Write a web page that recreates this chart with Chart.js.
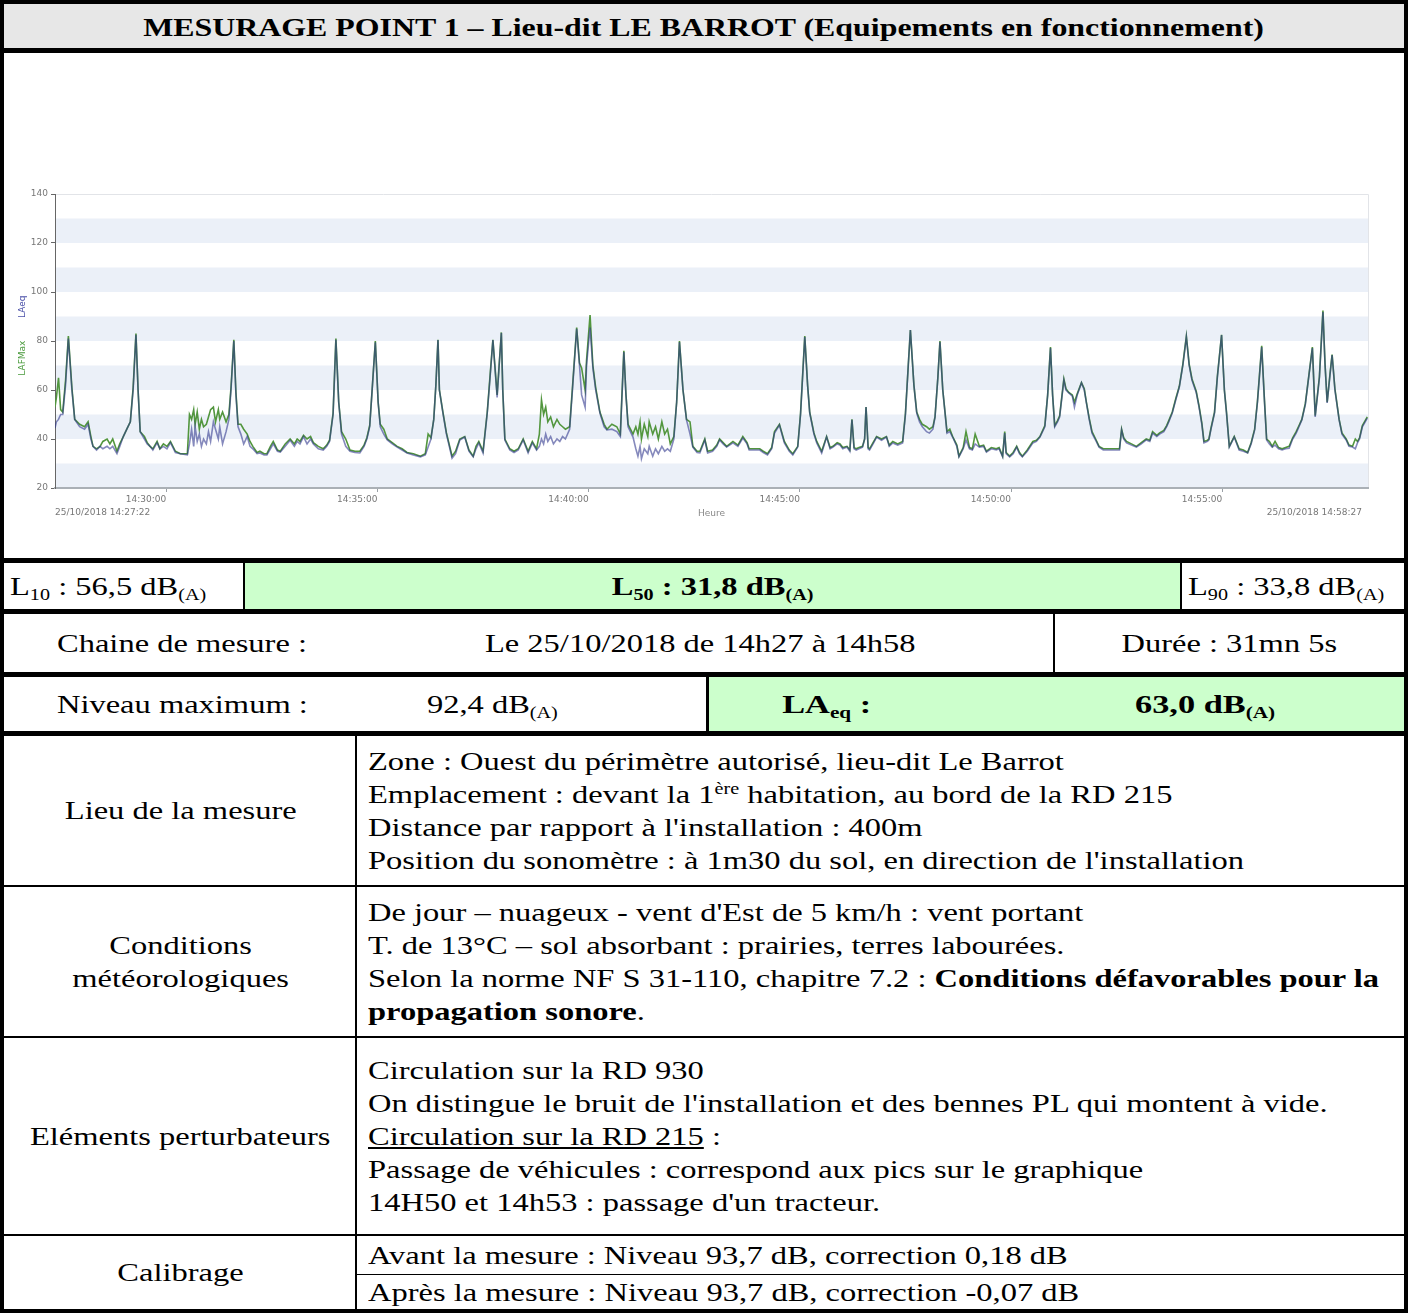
<!DOCTYPE html>
<html lang="fr">
<head>
<meta charset="utf-8">
<title>Mesurage point 1 - Le Barrot</title>
<script src="https://cdn.jsdelivr.net/npm/chart.js@4.4.1/dist/chart.umd.min.js"></script>
<style>
  body { margin: 0; background: #fff; }
  .sheet { position: relative; width: 1408px; height: 1313px; overflow: hidden;
           font-family: "Liberation Serif", "Times New Roman", serif; color: #000; }
  .hl { position: absolute; left: 0; width: 1408px; background: #000; }
  .vl { position: absolute; width: 2px; background: #000; }
  .cell { position: absolute; display: flex; align-items: center; justify-content: center;
          font-size: 26px; line-height: 33px; white-space: nowrap; }
  .cell.left { justify-content: flex-start; }
  .t { display: inline-block; transform: scaleX(1.25); transform-origin: center; text-align: center; }
  .left .t { transform-origin: left center; text-align: left; }
  .green { background: #ccffcc; }
  sub { font-size: 62%; vertical-align: -0.28em; line-height: 0; }
  sup { font-size: 62%; vertical-align: 0.55em; line-height: 0; }
  #chartBox { position: absolute; left: 8px; top: 180px; width: 1390px; height: 345px; }
</style>
</head>
<body>
<div class="sheet">
  <!-- titre -->
  <div class="cell" style="left:4px;top:4px;width:1400px;height:46px;background:#e7e7e7;font-size:25px;font-weight:bold;">
    <span class="t" style="transform:scaleX(1.275);">MESURAGE POINT 1 – Lieu-dit LE BARROT (Equipements en fonctionnement)</span>
  </div>

  <!-- graphique -->
  <div id="chartBox"><canvas id="chart" width="1390" height="345"></canvas></div>

  <!-- L10 / L50 / L90 -->
  <div class="cell left" style="left:4px;top:563px;width:239px;height:46px;padding-left:6px;box-sizing:border-box;">
    <span class="t">L<sub>10</sub> : 56,5 dB<sub>(A)</sub></span>
  </div>
  <div class="cell green" style="left:245px;top:563px;width:935px;height:46px;font-weight:bold;">
    <span class="t">L<sub>50</sub> : 31,8 dB<sub>(A)</sub></span>
  </div>
  <div class="cell left" style="left:1182px;top:563px;width:222px;height:46px;padding-left:6px;box-sizing:border-box;">
    <span class="t">L<sub>90</sub> : 33,8 dB<sub>(A)</sub></span>
  </div>

  <!-- chaine de mesure -->
  <div class="cell" style="left:4px;top:614px;width:356px;height:58px;"><span class="t">Chaine de mesure :</span></div>
  <div class="cell" style="left:354px;top:614px;width:693px;height:58px;"><span class="t">Le 25/10/2018 de 14h27 à 14h58</span></div>
  <div class="cell" style="left:1055px;top:614px;width:349px;height:58px;"><span class="t">Durée : 31mn 5s</span></div>

  <!-- niveau max / LAeq -->
  <div class="cell" style="left:4px;top:677px;width:356px;height:54px;"><span class="t">Niveau maximum :</span></div>
  <div class="cell" style="left:300px;top:677px;width:385px;height:54px;"><span class="t">92,4 dB<sub>(A)</sub></span></div>
  <div class="cell green" style="left:709px;top:677px;width:695px;height:54px;"></div>
  <div class="cell" style="left:709px;top:677px;width:236px;height:54px;font-weight:bold;"><span class="t" style="transform:scaleX(1.32);">LA<sub>eq</sub> :</span></div>
  <div class="cell" style="left:1000px;top:677px;width:410px;height:54px;font-weight:bold;"><span class="t" style="transform:scaleX(1.32);">63,0 dB<sub>(A)</sub></span></div>

  <!-- lieu -->
  <div class="cell" style="left:4px;top:736px;width:353px;height:149px;"><span class="t">Lieu de la mesure</span></div>
  <div class="cell left" style="left:368px;top:736px;width:1030px;height:149px;">
    <span class="t">Zone : Ouest du périmètre autorisé, lieu-dit Le Barrot<br>Emplacement : devant la 1<sup>ère</sup> habitation, au bord de la RD 215<br>Distance par rapport à l'installation : 400m<br>Position du sonomètre : à 1m30 du sol, en direction de l'installation</span>
  </div>

  <!-- conditions -->
  <div class="cell" style="left:4px;top:887px;width:353px;height:149px;"><span class="t">Conditions<br>météorologiques</span></div>
  <div class="cell left" style="left:368px;top:887px;width:1030px;height:149px;">
    <span class="t">De jour – nuageux - vent d'Est de 5 km/h : vent portant<br>T. de 13°C – sol absorbant : prairies, terres labourées.<br>Selon la norme NF S 31-110, chapitre 7.2 : <b>Conditions défavorables pour la<br>propagation sonore</b>.</span>
  </div>

  <!-- elements perturbateurs -->
  <div class="cell" style="left:4px;top:1038px;width:353px;height:196px;"><span class="t">Eléments perturbateurs</span></div>
  <div class="cell left" style="left:368px;top:1038px;width:1030px;height:196px;">
    <span class="t">Circulation sur la RD 930<br>On distingue le bruit de l'installation et des bennes PL qui montent à vide.<br><u>Circulation sur la RD 215</u> :<br>Passage de véhicules : correspond aux pics sur le graphique<br>14H50 et 14h53 : passage d'un tracteur.</span>
  </div>

  <!-- calibrage -->
  <div class="cell" style="left:4px;top:1236px;width:353px;height:73px;"><span class="t">Calibrage</span></div>
  <div class="cell left" style="left:368px;top:1236px;width:1030px;height:38px;"><span class="t">Avant la mesure : Niveau 93,7 dB, correction 0,18 dB</span></div>
  <div class="cell left" style="left:368px;top:1275px;width:1030px;height:34px;"><span class="t">Après la mesure : Niveau 93,7 dB, correction -0,07 dB</span></div>

  <!-- traits -->
  <div class="hl" style="top:0;height:4px;"></div>
  <div class="hl" style="top:48px;height:5px;"></div>
  <div class="hl" style="top:558px;height:5px;"></div>
  <div class="hl" style="top:609px;height:5px;"></div>
  <div class="hl" style="top:672px;height:5px;"></div>
  <div class="hl" style="top:731px;height:5px;"></div>
  <div class="hl" style="top:885px;height:2px;"></div>
  <div class="hl" style="top:1036px;height:2px;"></div>
  <div class="hl" style="top:1234px;height:2px;"></div>
  <div class="hl" style="top:1309px;height:4px;"></div>
  <div class="hl" style="top:1274px;height:1px;left:357px;width:1050px;"></div>
  <div class="vl" style="left:0;top:0;height:1313px;width:4px;"></div>
  <div class="vl" style="left:1404px;top:0;height:1313px;width:4px;"></div>
  <div class="vl" style="left:243px;top:563px;height:46px;"></div>
  <div class="vl" style="left:1180px;top:563px;height:46px;"></div>
  <div class="vl" style="left:1053px;top:614px;height:58px;"></div>
  <div class="vl" style="left:706px;top:677px;height:54px;width:3px;"></div>
  <div class="vl" style="left:355px;top:736px;height:573px;"></div>
</div>

<script>
// Temps en secondes depuis 14:27:22 (fin 14:58:27)
const timeSec = [
  0, 2, 5, 8, 11, 15, 19, 24, 28, 35, 42, 47, 51, 54, 59, 64, 68, 74, 78, 82,
  88, 92, 97, 102, 107, 111, 115, 118, 121, 127, 131, 135, 139, 145, 149, 154, 159, 164, 171, 178,
  188, 191, 194, 197, 199, 202, 205, 208, 211, 215, 218, 221, 225, 228, 232, 234, 238, 243, 247, 250,
  254, 257, 260, 264, 268, 273, 277, 281, 287, 291, 297, 301, 306, 310, 316, 320, 327, 334, 340, 344,
  348, 353, 358, 363, 367, 374, 381, 386, 390, 395, 399, 403, 407, 413, 419, 426, 433, 439, 443, 447,
  450, 455, 459, 462, 467, 472, 479, 486, 493, 500, 509, 519, 526, 530, 534, 538, 541, 544, 546, 551,
  556, 564, 569, 575, 582, 588, 594, 598, 602, 608, 614, 618, 622, 628, 634, 636, 639, 646, 652, 658,
  665, 672, 678, 684, 688, 691, 694, 697, 700, 704, 708, 713, 717, 721, 725, 731, 735, 741, 745, 748,
  753, 755, 760, 764, 768, 774, 780, 784, 791, 798, 803, 805, 808, 811, 814, 821, 825, 828, 831, 833,
  837, 842, 844, 849, 853, 857, 862, 866, 870, 874, 879, 883, 887, 892, 897, 902, 906, 912, 916, 923,
  927, 934, 940, 944, 949, 954, 963, 970, 977, 983, 986, 993, 1001, 1006, 1012, 1018, 1022, 1029, 1036, 1043,
  1048, 1055, 1059, 1065, 1069, 1072, 1078, 1082, 1089, 1096, 1101, 1105, 1111, 1115, 1119, 1125, 1129, 1132, 1135, 1138,
  1142, 1147, 1150, 1152, 1155, 1157, 1162, 1167, 1174, 1181, 1185, 1190, 1197, 1204, 1208, 1212, 1215, 1220, 1224, 1228,
  1232, 1238, 1242, 1247, 1250, 1254, 1257, 1261, 1267, 1271, 1275, 1281, 1284, 1290, 1294, 1299, 1303, 1307, 1313, 1319,
  1323, 1330, 1337, 1341, 1346, 1349, 1351, 1356, 1361, 1366, 1370, 1374, 1381, 1389, 1394, 1399, 1406, 1410, 1414, 1417,
  1420, 1424, 1427, 1433, 1436, 1440, 1445, 1448, 1452, 1458, 1462, 1465, 1469, 1473, 1479, 1483, 1489, 1493, 1502, 1512,
  1515, 1518, 1522, 1529, 1536, 1543, 1550, 1555, 1559, 1565, 1569, 1575, 1579, 1582, 1587, 1592, 1597, 1602, 1607, 1611,
  1615, 1621, 1625, 1629, 1632, 1637, 1639, 1642, 1647, 1651, 1657, 1661, 1664, 1668, 1675, 1682, 1688, 1694, 1699, 1704,
  1708, 1714, 1718, 1721, 1725, 1729, 1733, 1738, 1743, 1748, 1753, 1758, 1763, 1767, 1771, 1776, 1778, 1786, 1790, 1796,
  1801, 1804, 1807, 1811, 1814, 1818, 1824, 1828, 1834, 1838, 1843, 1847, 1850, 1853, 1857, 1861, 1864
];

// LAeq (bleu), dB(A)
const laeq = [
  44.5, 47, 48, 50, 50, 62, 81, 60, 48, 45, 44, 46, 40, 37, 35.5, 37, 36, 37, 36, 37,
  34, 37, 41, 44, 47, 60, 82.5, 60, 43, 40, 38, 37, 35.5, 38.5, 36, 37, 36, 38.5, 34.5, 34,
  33.5, 38, 44, 37, 45, 39, 42, 37, 40, 38, 43, 39, 47, 44, 40, 45, 38, 43, 48, 60,
  80, 58, 45, 42, 38, 41, 37, 36, 34, 34.3, 33.5, 33.5, 36, 38, 35, 34.7, 37, 39.5, 37, 39,
  38, 41, 38, 40, 38, 36, 35.5, 37, 39, 50, 80.5, 55, 42, 37, 35, 34.5, 34.3, 37, 40, 45,
  58, 79.5, 55, 45, 42, 39.6, 38, 36.7, 35.5, 34.3, 33.5, 32.7, 33.5, 36.7, 40, 48, 62, 80.4, 60, 50.6,
  42, 32.2, 34, 39.6, 40.8, 35, 32.7, 36, 38.4, 34.3, 50.6, 65, 80.4, 57, 83.3, 60, 39.6, 35.5, 34.5, 35.5,
  39.6, 34.3, 38.4, 35.5, 37, 40, 38, 42, 39, 41, 38, 40, 39, 41, 40, 44, 60, 85, 70, 58,
  53, 70, 85.5, 69, 60, 50.6, 45, 43.7, 44, 43, 41, 55, 75.5, 58, 45, 40.8, 36, 33, 37, 32,
  36, 34, 37, 33, 36, 34, 37, 35, 36, 35, 40, 55, 79.6, 60, 47.8, 42, 36.7, 34.5, 34.3, 39.6,
  34.3, 35, 37, 39.6, 38, 36.7, 38.4, 37, 40.4, 38, 35.5, 35.5, 35.5, 34.5, 33.5, 36, 42.4, 45.7, 38.4, 35,
  33.5, 36.7, 50, 81.6, 62, 50.6, 42, 38.4, 34.3, 40.8, 36, 36.7, 38, 37.5, 36, 36.7, 35, 47.8, 36, 35.5,
  36, 36.7, 40, 53, 36, 35.5, 38, 40.8, 39.5, 40.8, 37, 38.4, 37.5, 38.4, 50, 70, 84.5, 62, 50.6, 47,
  45, 43, 42.4, 44, 49, 65, 79.6, 60, 42.4, 43, 40.8, 37, 32.7, 36, 39.6, 36, 35.5, 38, 36.7, 37,
  34.7, 36, 35.5, 36, 32.7, 42.4, 34, 32.7, 34, 36.7, 34, 32.7, 35, 38.4, 39, 40.8, 45, 58, 77.1, 58,
  45, 47, 49, 64, 60, 58.8, 57.5, 53, 58, 62.9, 60, 54.7, 48, 42.4, 39, 36.7, 35.5, 35.5, 35.5, 35.5,
  43.7, 40, 38.4, 37.5, 36.7, 38, 39.6, 39, 42.4, 41, 42, 43, 45, 47, 50.6, 56, 61.2, 70, 81.6, 70,
  64, 59, 53, 46, 38.4, 39, 39.6, 44, 50.6, 65, 82.4, 60, 50.6, 36.7, 40.8, 35.5, 35, 34.3, 38, 43.7,
  55, 77.5, 55, 39.6, 38, 36.7, 37.5, 36, 35.5, 36, 36.2, 40, 42.4, 45, 47.8, 54, 58.8, 77.1, 49, 65,
  91.8, 70, 54.7, 66, 74.3, 60, 47.8, 42, 39.6, 37, 36.7, 36, 38.4, 40, 45, 47, 48.5
];

// LAFMax (vert), dB(A)
const lafmax = [
  53, 57, 65, 52, 51, 64, 82, 61, 48, 46, 45, 47, 41, 37, 36, 37, 39, 40, 38, 40,
  35, 38, 41, 44, 47, 61, 83, 60, 43, 41, 38.5, 37, 36, 39, 36, 38, 37, 39, 35, 34,
  34, 50, 48, 52, 46, 51, 44, 48, 45, 46, 49, 52, 53, 47, 52, 48, 51, 47, 50, 61,
  80.5, 59, 46, 46, 44, 42, 39, 37, 34.5, 35, 34, 34, 37, 39, 35.5, 35, 38, 40, 38, 40,
  39, 41.5, 40, 41, 38.5, 37, 36, 37.5, 39.5, 50.5, 81, 55, 43, 40, 35.5, 35, 35, 37.5, 40.5, 45.5,
  58, 80, 55, 46, 44, 40, 38.5, 37, 36, 34.5, 34, 33, 34, 42, 40.5, 48, 62, 80.5, 60, 51,
  42.5, 33, 35, 40, 41, 35.5, 33, 37, 39, 35, 51, 66, 80.5, 58, 83.5, 60, 40, 36, 35, 36,
  40, 35, 39, 36, 42, 56, 50, 53, 47, 49, 45, 48, 46, 45, 44, 45, 61, 85.5, 71, 69,
  60, 72, 90.6, 70, 61, 51, 46, 44, 46, 45, 42, 56, 76, 58, 46, 42, 45, 42, 47, 40,
  46, 41, 47, 42, 45, 40, 47, 42, 44, 38, 41, 55, 80, 60, 48, 47, 37, 35, 35, 40,
  35, 35.5, 37.5, 40, 38.5, 37, 39, 37.5, 41, 38.5, 36, 36, 36, 35, 34, 36.5, 43, 46, 39, 35.5,
  34, 37, 50.5, 82, 62, 51, 42.5, 39, 35, 41, 36.5, 37, 38.5, 38, 36.5, 37, 35.5, 48, 36.5, 36,
  36.5, 37, 40, 53, 36.5, 36, 38.5, 41, 40, 41, 37.5, 39, 38, 39, 50.5, 70, 84.5, 62, 51, 48,
  46, 45, 44, 45, 49, 65, 80, 60, 43, 44, 41, 37.5, 33, 36.5, 43, 36.5, 36, 42, 37, 37.5,
  35, 36.5, 36, 36.5, 33, 43, 34.5, 33, 34.5, 37, 34.5, 33, 35.5, 39, 39.5, 41, 45.5, 58, 77.5, 58,
  45.5, 47.5, 49.5, 64.5, 60.5, 59, 58, 55, 58.5, 63, 60.5, 55, 48.5, 43, 39.5, 37, 36, 36, 36, 36,
  44, 40.5, 39, 38, 37, 38.5, 40, 39.5, 43, 41.5, 42.5, 43.5, 45.5, 47.5, 51, 56.5, 61.5, 70.5, 82, 70.5,
  64.5, 59.5, 53.5, 46.5, 39, 39.5, 40, 44.5, 51, 65.5, 82.5, 60, 51, 37, 41, 36, 35.5, 34.5, 38.5, 44,
  55.5, 78, 55.5, 40, 39, 37, 39, 36.5, 36, 36.5, 37, 40.5, 43, 45.5, 48, 54.5, 59, 77.5, 49.5, 65.5,
  92.4, 70.5, 55, 66.5, 74.5, 60.5, 48, 42.5, 40, 37.5, 37, 40, 39, 40.5, 45.5, 47.5, 49
];

const yTicks = [20, 40, 60, 80, 100, 120, 140];
const bandStarts = [20, 40, 60, 80, 100, 120];
const xTickSec = [158, 458, 758, 1058, 1358, 1658];
const xTickLabels = ['14:30:00', '14:35:00', '14:40:00', '14:45:00', '14:50:00', '14:55:00'];
const startLabel = '25/10/2018 14:27:22';
const endLabel = '25/10/2018 14:58:27';
const durationSec = 1865;

const axisFont = { family: 'DejaVu Sans', size: 9 };

const bandsPlugin = {
  id: 'bands',
  beforeDraw(chart) {
    const { ctx, chartArea: a, scales: { y } } = chart;
    ctx.save();
    ctx.fillStyle = '#ebf0f8';
    bandStarts.forEach(lo => {
      const top = y.getPixelForValue(lo + 10);
      const bot = y.getPixelForValue(lo);
      ctx.fillRect(a.left, top, a.right - a.left, bot - top);
    });
    ctx.strokeStyle = '#e2e4e8';
    ctx.lineWidth = 1;
    ctx.beginPath();
    ctx.moveTo(a.left, a.top + 0.5);
    ctx.lineTo(a.right + 0.5, a.top + 0.5);
    ctx.lineTo(a.right + 0.5, a.bottom);
    ctx.stroke();
    ctx.restore();
  }
};

const labelsPlugin = {
  id: 'labels',
  afterDraw(chart) {
    const { ctx, chartArea: a, scales: { y } } = chart;
    ctx.save();
    ctx.font = '9px "DejaVu Sans"';
    ctx.fillStyle = '#777';
    ctx.textBaseline = 'middle';
    ctx.textAlign = 'left';
    ctx.fillText(startLabel, a.left, a.bottom + 25);
    ctx.textAlign = 'right';
    ctx.fillText(endLabel, a.right - 6, a.bottom + 25);

    // titre de l'axe Y, en deux couleurs
    ctx.translate(15, 0);
    ctx.rotate(-Math.PI / 2);
    ctx.textAlign = 'center';
    ctx.fillStyle = '#4a9a3c';
    ctx.fillText('LAFMax', -y.getPixelForValue(73), 0);
    ctx.fillStyle = '#4a50a8';
    ctx.fillText('LAeq', -y.getPixelForValue(94), 0);
    ctx.restore();
  }
};

// LAeq en premier : Chart.js dessine le premier jeu de données au-dessus
new Chart(document.getElementById('chart'), {
  type: 'line',
  data: {
    datasets: [
      {
        label: 'LAeq',
        data: timeSec.map((t, i) => ({ x: t, y: laeq[i] })),
        borderColor: 'rgba(44,52,140,0.58)',
        borderWidth: 1.6,
        pointRadius: 0,
        tension: 0
      },
      {
        label: 'LAFMax',
        data: timeSec.map((t, i) => ({ x: t, y: lafmax[i] })),
        borderColor: 'rgb(82,150,62)',
        borderWidth: 1.6,
        pointRadius: 0,
        tension: 0
      }
    ]
  },
  options: {
    responsive: false,
    animation: false,
    events: [],
    layout: { padding: { left: 0, right: 30, top: 14, bottom: 0 } },
    plugins: { legend: { display: false }, tooltip: { enabled: false } },
    scales: {
      x: {
        type: 'linear',
        min: 0,
        max: durationSec,
        afterBuildTicks: s => { s.ticks = xTickSec.map(v => ({ value: v })); },
        afterFit: s => { s.height = 37; },
        ticks: {
          callback: v => xTickLabels[xTickSec.indexOf(v)],
          align: 'end',
          autoSkip: false,
          maxRotation: 0,
          padding: 2,
          color: '#777',
          font: axisFont
        },
        grid: { drawOnChartArea: false, drawTicks: true, tickLength: 4, color: '#9aa0a6' },
        border: { color: '#aab0b6', width: 2 },
        title: { display: true, text: 'Heure', color: '#888', font: axisFont, padding: { top: 0, bottom: 6 } }
      },
      y: {
        min: 20,
        max: 140,
        afterBuildTicks: s => { s.ticks = yTicks.map(v => ({ value: v })); },
        afterFit: s => { s.width = 47; },
        ticks: { color: '#777', font: axisFont, padding: 3 },
        grid: { drawOnChartArea: false, drawTicks: true, tickLength: 4, color: '#666' },
        border: { color: '#666', width: 1 }
      }
    }
  },
  plugins: [bandsPlugin, labelsPlugin]
});
</script>
</body>
</html>
